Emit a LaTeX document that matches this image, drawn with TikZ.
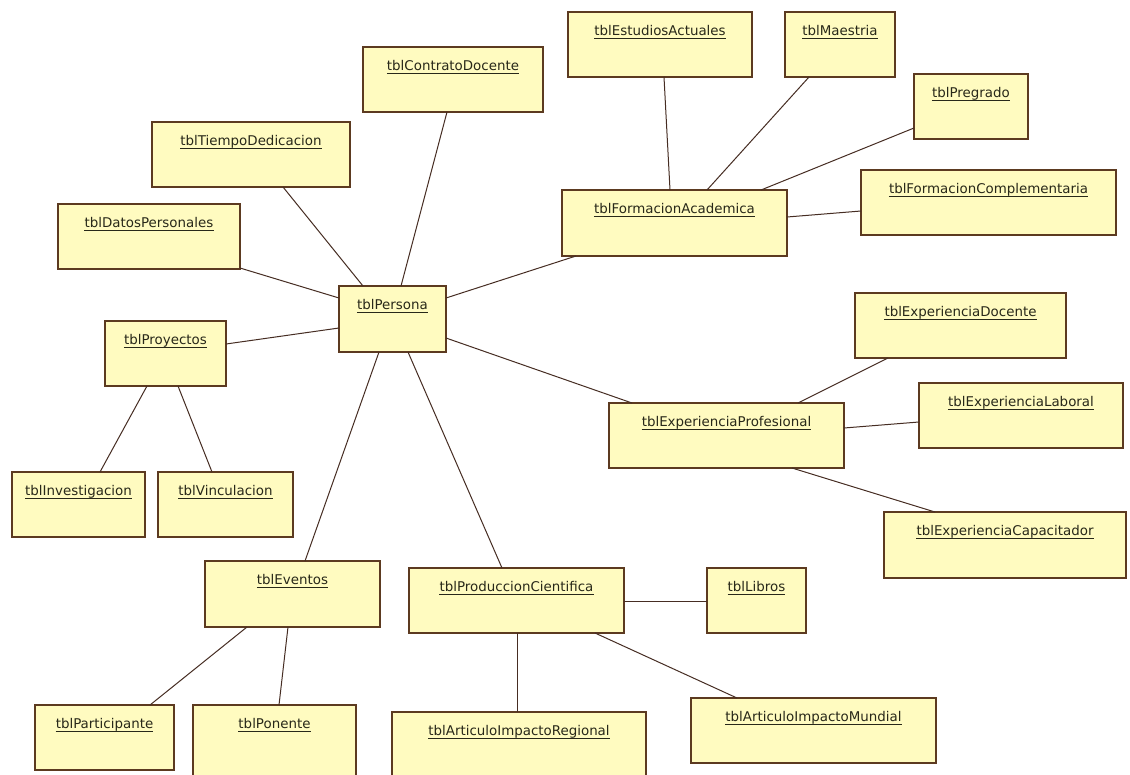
\documentclass[tikz,border=0pt]{standalone}
\usepackage{fontspec}
\setmainfont{DejaVu Sans}
\usetikzlibrary{calc}
\definecolor{boxfill}{RGB}{255,251,192}
\definecolor{boxline}{RGB}{92,58,32}
\definecolor{conn}{RGB}{70,45,35}
\definecolor{txt}{RGB}{40,40,25}
\tikzset{
  tblbox/.style={draw=boxline, fill=boxfill, line width=1.4pt, inner sep=0pt, outer sep=0pt, anchor=north west, rectangle},
  tbltext/.style={text=txt, font=\fontsize{13.4}{15}\selectfont, anchor=base, inner sep=0pt},
  uline/.style={draw=txt, line width=0.8pt},
  link/.style={draw=conn, line width=1pt}
}
\newcommand\tbl[6]{%
  \node[tblbox, minimum width={#4-#2}, minimum height={#5-#3}] (#1) at (#2,#3) {};
  \node[tbltext] (#1-t) at ($(#1.north)+(0,23.5)$) {#6};
  \draw[uline] ($(#1-t.base west)+(0,2.5)$) -- ($(#1-t.base east)+(0,2.5)$);
}
\newcommand\conn[6]{%
  \draw[link] ($(#1.north west)+(#2,#3)$) -- ($(#4.north west)+(#5,#6)$);
}
\begin{document}
\begin{tikzpicture}[x=1pt,y=-1pt]
\useasboundingbox (0,0) rectangle (1130,774);
\fill[white] (0,0) rectangle (1130,774);
\clip (0,0) rectangle (1130,774);

\tbl{contrato}{363}{47}{543}{112}{tblContratoDocente}
\tbl{tiempo}{152}{122}{350}{187}{tblTiempoDedicacion}
\tbl{datos}{58}{204}{240}{269}{tblDatosPersonales}
\tbl{persona}{339}{286}{446}{352}{tblPersona}
\tbl{proyectos}{105}{321}{226}{386}{tblProyectos}
\tbl{investigacion}{12}{472}{145}{537}{tblInvestigacion}
\tbl{vinculacion}{158}{472}{293}{537}{tblVinculacion}
\tbl{eventos}{205}{561}{380}{627}{tblEventos}
\tbl{produccion}{409}{568}{624}{633}{tblProduccionCientifica}
\tbl{libros}{707}{568}{806}{633}{tblLibros}
\tbl{participante}{35}{705}{174}{770}{tblParticipante}
\tbl{ponente}{193}{705}{356}{790}{tblPonente}
\tbl{regional}{392}{712}{646}{790}{tblArticuloImpactoRegional}
\tbl{mundial}{691}{698}{936}{763}{tblArticuloImpactoMundial}
\tbl{estudios}{568}{12}{752}{77}{tblEstudiosActuales}
\tbl{maestria}{785}{12}{895}{77}{tblMaestria}
\tbl{pregrado}{914}{74}{1028}{139}{tblPregrado}
\tbl{formacion}{562}{190}{787}{256}{tblFormacionAcademica}
\tbl{complementaria}{861}{170}{1116}{235}{tblFormacionComplementaria}
\tbl{docente}{855}{293}{1066}{358}{tblExperienciaDocente}
\tbl{profesional}{609}{403}{844}{468}{tblExperienciaProfesional}
\tbl{laboral}{919}{383}{1123}{448}{tblExperienciaLaboral}
\tbl{capacitador}{884}{512}{1126}{578}{tblExperienciaCapacitador}

\conn{tiempo}{131}{65}{persona}{24}{0}
\conn{contrato}{84}{65}{persona}{62}{0}
\conn{datos}{182}{64}{persona}{0}{12}
\conn{proyectos}{121}{23}{persona}{0}{42}
\conn{persona}{107}{12}{formacion}{14}{66}
\conn{persona}{107}{52}{profesional}{23}{0}
\conn{persona}{40}{66}{eventos}{100}{0}
\conn{persona}{69}{66}{produccion}{93}{0}
\conn{estudios}{96}{65}{formacion}{108}{0}
\conn{maestria}{24}{65}{formacion}{145}{0}
\conn{pregrado}{0}{54}{formacion}{199}{0}
\conn{formacion}{225}{27}{complementaria}{0}{41}
\conn{docente}{33}{65}{profesional}{189}{0}
\conn{profesional}{235}{25}{laboral}{0}{39}
\conn{profesional}{183}{65}{capacitador}{51}{0}
\conn{proyectos}{42}{65}{investigacion}{88}{0}
\conn{proyectos}{73}{65}{vinculacion}{54}{0}
\conn{eventos}{42}{66}{participante}{115}{0}
\conn{eventos}{83}{66}{ponente}{86}{0}
\conn{produccion}{215}{33}{libros}{0}{33}
\conn{produccion}{108}{65}{regional}{125}{0}
\conn{produccion}{186}{65}{mundial}{46}{0}
\end{tikzpicture}
\end{document}
